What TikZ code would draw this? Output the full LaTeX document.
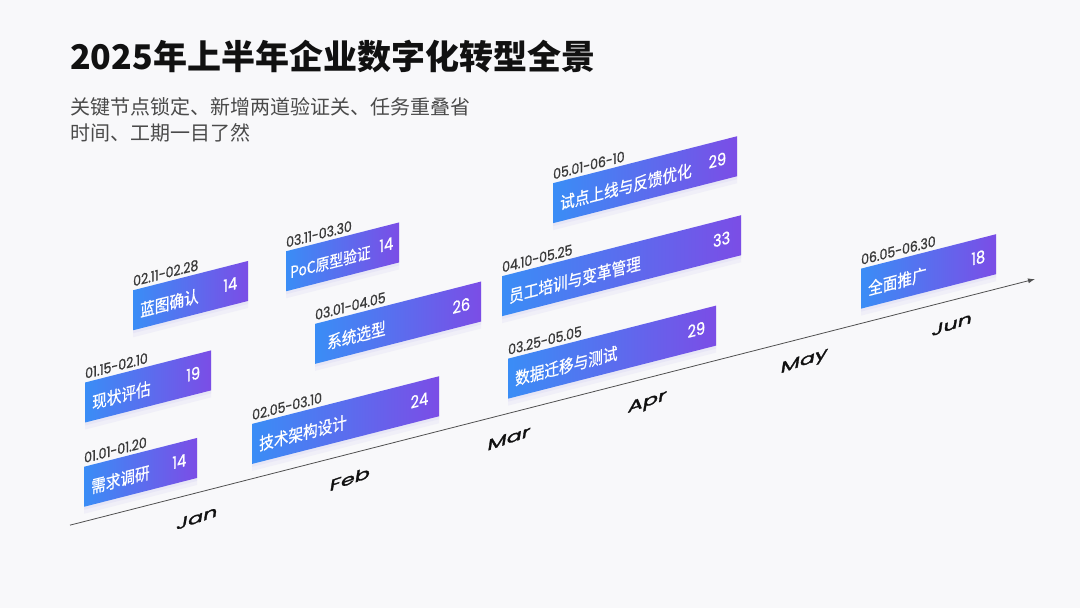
\documentclass[tikz,border=0pt]{standalone}
\usepackage{fontspec}
\setmainfont{Poppins}
\newfontfamily\cjk{Noto Sans CJK SC}
\newfontfamily\cjknarrow[FakeStretch=0.86, FakeBold=0.6]{Noto Sans CJK SC}
\newfontfamily\numnarrow[FakeStretch=0.86, FakeBold=0.8]{Poppins}
\newfontfamily\monthfont[FakeBold=1.6]{Poppins}
\usetikzlibrary{arrows.meta,positioning,shadows}
\definecolor{tbg}{HTML}{F8F8FA}
\definecolor{tblue}{HTML}{3A8DF6}
\definecolor{tviolet}{HTML}{7B4DE6}
\definecolor{tshadow}{HTML}{D9D6F3}
\definecolor{tink}{HTML}{111111}
\definecolor{tgrey}{HTML}{4A4A4A}
\definecolor{tdate}{HTML}{3A3A3A}
\definecolor{taxis}{HTML}{505050}
\tikzset{
  taskbar/.style={anchor=north west, minimum height=40pt, inner sep=0pt,
                  left color=tblue, right color=tviolet,
                  drop shadow={shadow xshift=0pt, shadow yshift=-7pt, fill=tshadow, opacity=0.25},
                  drop shadow={shadow xshift=0pt, shadow yshift=-3pt, fill=tshadow, opacity=0.35}},
  tasklbl/.style={anchor=west, inner sep=0pt, text=white, font=\cjknarrow\fontsize{17}{17}\selectfont},
  tasknum/.style={anchor=east, inner sep=0pt, text=white, font=\numnarrow\fontsize{17}{17}\selectfont},
  datelbl/.style={anchor=south west, inner sep=0pt, text=tdate, font=\numnarrow\fontsize{14.5}{14.5}\selectfont},
  monthlbl/.style={inner sep=0pt, text=tink, font=\monthfont\fontsize{20}{20}\selectfont,
                   rotate=5, xslant=0.25, yscale=0.75, xscale=1.12},
  timeaxis/.style={draw=taxis, line width=0.8pt, -{Latex[length=7pt,width=5pt]}},
}

\begin{document}
\begin{tikzpicture}[x=1pt, y=-1pt]
  \fill[tbg] (0,0) rectangle (1080,608);
  \useasboundingbox (0,0) rectangle (1080,608);
  % heading
  \node[anchor=west, inner sep=0pt, text=tink, font=\cjk\bfseries\fontsize{34}{34}\selectfont] (title) at (70,57)
    {2025年上半年企业数字化转型全景};
  \node[anchor=north west, inner sep=0pt, align=left, text=tgrey, font=\cjk\fontsize{20}{26}\selectfont] (sub) at (70,97)
    {关键节点锁定、新增两道验证关、任务重叠省\\时间、工期一目了然};

  % the whole timeline leans up along the axis
  \begin{scope}[cm={1,0.255,0,1,(0,0)}, transform shape]
    \coordinate (ax0) at (70,543);
    \coordinate (ax1) at (1035,543);
    \draw[timeaxis] (ax0) -- (ax1);

    \node[monthlbl] (jan) at (197,568) {Jan};
    \node[monthlbl] (feb) at (350,568) {Feb};
    \node[monthlbl] (mar) at (509,568) {Mar};
    \node[monthlbl] (apr) at (647,568) {Apr};
    \node[monthlbl] (may) at (804,567) {May};
    \node[monthlbl] (jun) at (952,567) {Jun};

    % lower row
    \node[taskbar, minimum width=113pt] (req) at (84,488) {};
    \node[tasklbl] (reqL) at ([xshift=7pt, yshift=-2pt]req.west) {需求调研};
    \node[tasknum] (reqN) at ([xshift=-11pt, yshift=1pt]req.east) {14};
    \node[datelbl] (reqD) at ([yshift=3pt]req.north west) {01.01-01.20};

    \node[taskbar, minimum width=187pt] (arch) at (252,488) {};
    \node[tasklbl] (archL) at ([xshift=7pt, yshift=-2pt]arch.west) {技术架构设计};
    \node[tasknum] (archN) at ([xshift=-11pt, yshift=1pt]arch.east) {24};
    \node[datelbl] (archD) at ([yshift=3pt]arch.north west) {02.05-03.10};

    \node[taskbar, minimum width=208pt] (mig) at (508,488) {};
    \node[tasklbl] (migL) at ([xshift=7pt, yshift=-2pt]mig.west) {数据迁移与测试};
    \node[tasknum] (migN) at ([xshift=-11pt, yshift=1pt]mig.east) {29};
    \node[datelbl] (migD) at ([yshift=3pt]mig.north west) {03.25-05.05};

    \node[taskbar, minimum width=135pt] (roll) at (861,488) {};
    \node[tasklbl] (rollL) at ([xshift=7pt, yshift=-2pt]roll.west) {全面推广};
    \node[tasknum] (rollN) at ([xshift=-11pt, yshift=1pt]roll.east) {18};
    \node[datelbl] (rollD) at ([yshift=3pt]roll.north west) {06.05-06.30};

    % middle row
    \node[taskbar, minimum width=126pt] (asis) at (85,404) {};
    \node[tasklbl] (asisL) at ([xshift=7pt, yshift=-2pt]asis.west) {现状评估};
    \node[tasknum] (asisN) at ([xshift=-11pt, yshift=1pt]asis.east) {19};
    \node[datelbl] (asisD) at ([yshift=3pt]asis.north west) {01.15-02.10};

    \node[taskbar, minimum width=166pt] (sel) at (315,404) {};
    \node[tasklbl] (selL) at ([xshift=12pt, yshift=-2pt]sel.west) {系统选型};
    \node[tasknum] (selN) at ([xshift=-11pt, yshift=1pt]sel.east) {26};
    \node[datelbl] (selD) at ([yshift=3pt]sel.north west) {03.01-04.05};

    \node[taskbar, minimum width=239pt] (train) at (502,404) {};
    \node[tasklbl] (trainL) at ([xshift=7pt, yshift=-2pt]train.west) {员工培训与变革管理};
    \node[tasknum] (trainN) at ([xshift=-11pt, yshift=1pt]train.east) {33};
    \node[datelbl] (trainD) at ([yshift=3pt]train.north west) {04.10-05.25};

    % upper row
    \node[taskbar, minimum width=115pt] (blue) at (133,324) {};
    \node[tasklbl] (blueL) at ([xshift=7pt, yshift=-2pt]blue.west) {蓝图确认};
    \node[tasknum] (blueN) at ([xshift=-11pt, yshift=1pt]blue.east) {14};
    \node[datelbl] (blueD) at ([yshift=3pt]blue.north west) {02.11-02.28};

    \node[taskbar, minimum width=113pt] (poc) at (286,324) {};
    \node[tasklbl, font=\cjknarrow\fontsize{16}{16}\selectfont] (pocL) at ([xshift=4pt, yshift=-2pt]poc.west) {PoC原型验证};
    \node[tasknum] (pocN) at ([xshift=-6pt, yshift=1pt]poc.east) {14};
    \node[datelbl] (pocD) at ([yshift=3pt]poc.north west) {03.11-03.30};

    \node[taskbar, minimum width=184pt] (pilot) at (553,324) {};
    \node[tasklbl] (pilotL) at ([xshift=7pt, yshift=-2pt]pilot.west) {试点上线与反馈优化};
    \node[tasknum] (pilotN) at ([xshift=-11pt, yshift=1pt]pilot.east) {29};
    \node[datelbl] (pilotD) at ([yshift=3pt]pilot.north west) {05.01-06-10};
  \end{scope}
\end{tikzpicture}
\end{document}
